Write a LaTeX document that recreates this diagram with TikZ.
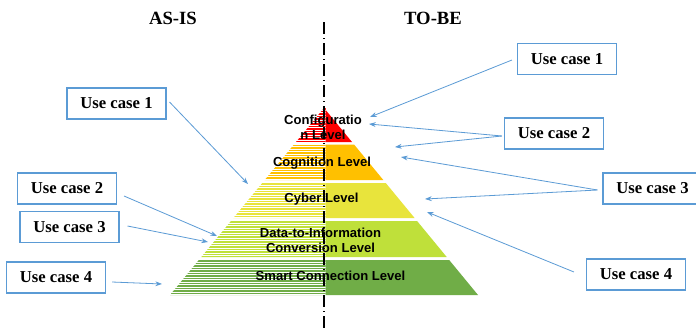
\documentclass[tikz,border=0pt]{standalone}
\usepackage{fontspec}
\setmainfont{Liberation Serif}
\setsansfont{Liberation Sans}
\usetikzlibrary{arrows.meta}
\definecolor{lvred}{HTML}{FF0000}
\definecolor{lvorange}{HTML}{FFC000}
\definecolor{lvyellow}{HTML}{E8E43C}
\definecolor{lvlime}{HTML}{BFE03A}
\definecolor{lvgreen}{HTML}{70AD47}
\definecolor{ucblue}{HTML}{5B9BD5}
\newcommand\pyrband[3]{%
  \pgfmathsetmacro\wt{0.823529*(#1-108)}%
  \pgfmathsetmacro\wb{0.823529*(#2-108)}%
  \fill[#3] (325.5,#1) -- ({324+\wt},#1) -- ({324+\wb},#2) -- (325.5,#2) -- cycle;
  \begin{scope}
    \clip (325.5,#1) -- ({324-\wt},#1) -- ({324-\wb},#2) -- (325.5,#2) -- cycle;
    \foreach \i in {0,...,15}{\draw[#3, line width=1pt] (160,{#1+1+2.5*\i}) -- (330,{#1+1+2.5*\i});}
  \end{scope}}
\begin{document}
\begin{tikzpicture}[x=0.75pt,y=-0.75pt,
  ucbox/.style={draw=ucblue, line width=0.8pt, fill=white, minimum width=74.25pt, minimum height=23.25pt, inner sep=0pt, font=\fontsize{12.5}{14}\selectfont\bfseries},
  lvtext/.style={font=\sffamily\bfseries\fontsize{9.8}{11}\selectfont, align=center, inner sep=0pt},
  title/.style={font=\fontsize{14}{16}\selectfont\bfseries, inner sep=0pt},
  arr/.style={draw=ucblue, line width=0.6pt, -{Stealth[length=5pt,width=3.6pt]}}]
\useasboundingbox (0,0) rectangle (696,329);
\fill[white] (0,0) rectangle (696,329);
% pyramid
\pyrband{108}{142}{lvred}
\pyrband{144.5}{180}{lvorange}
\pyrband{183}{218}{lvyellow}
\pyrband{221}{257}{lvlime}
\pyrband{260}{295}{lvgreen}
% centre line
\coordinate (ctop) at (324,22);
\coordinate (cbot) at (324,329);
\draw[line width=0.8pt, dash pattern=on 9pt off 3pt on 0.75pt off 3pt] (ctop) -- (cbot);
% level labels
\node[lvtext] (l5) at (323,127) {Configuratio\\n Level};
\node[lvtext] (l4) at (322,163) {Cognition Level};
\node[lvtext] (l3) at (321.5,199) {Cyber Level};
\node[lvtext] (l2) at (320.5,240) {Data-to-Information\\Conversion Level};
\node[lvtext] (l1) at (330.5,276) {Smart Connection Level};
% titles
\node[title] (asis) at (173,18) {AS-IS};
\node[title] (tobe) at (433,18) {TO-BE};
% boxes
\node[ucbox] (L1) at (116.5,103.5) {Use case 1};
\node[ucbox] (L2) at (67,188.5) {Use case 2};
\node[ucbox] (L3) at (69.5,227) {Use case 3};
\node[ucbox] (L4) at (56,277.5) {Use case 4};
\node[ucbox] (R1) at (567,59) {Use case 1};
\node[ucbox] (R2) at (554,133.5) {Use case 2};
\node[ucbox] (R3) at (652.5,188.5) {Use case 3};
\node[ucbox] (R4) at (636,274.5) {Use case 4};
% arrow tips
\coordinate (tL1) at (248,184);
\coordinate (tL2) at (217,236);
\coordinate (tL3) at (208,242);
\coordinate (tL4) at (162,284);
\coordinate (tR1) at (370,117);
\coordinate (tR2a) at (369,124);
\coordinate (tR2b) at (395,147);
\coordinate (tR3a) at (401,157);
\coordinate (tR3b) at (425,199);
\coordinate (tR4) at (427,212);
% connectors
\draw[arr] ([shift={(3,-1.5)}]L1.east) -- (tL1);
\draw[arr] ([shift={(7,7.5)}]L2.east) -- (tL2);
\draw[arr] ([shift={(8,-1)}]L3.east) -- (tL3);
\draw[arr] ([shift={(6,4.5)}]L4.east) -- (tL4);
\draw[arr] ([shift={(-5,1)}]R1.west) -- (tR1);
\draw[arr] ([shift={(-2,2.5)}]R2.west) -- (tR2a);
\draw[arr] ([shift={(-2,2.5)}]R2.west) -- (tR2b);
\draw[arr] ([shift={(-5,1.5)}]R3.west) -- (tR3a);
\draw[arr] ([shift={(-5,1.5)}]R3.west) -- (tR3b);
\draw[arr] ([shift={(-12,-2.5)}]R4.west) -- (tR4);
\end{tikzpicture}
\end{document}
